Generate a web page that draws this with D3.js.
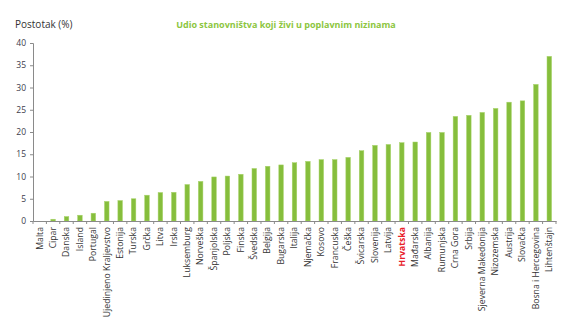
<!DOCTYPE html>
<html><head><meta charset="utf-8">
<script src="https://cdn.jsdelivr.net/npm/d3@7"></script>
<style>body{margin:0;background:#fff}svg{display:block}text{font-family:"Open Sans",sans-serif}</style>
</head><body><svg id="c" width="574" height="332"></svg>
<script>
const countries = ["Malta","Cipar","Danska","Island","Portugal","Ujedinjeno Kraljevstvo","Estonija","Turska","Grčka","Litva","Irska","Luksemburg","Norveška","Španjolska","Poljska","Finska","Švedska","Belgija","Bugarska","Italija","Njemačka","Kosovo","Francuska","Češka","Švicarska","Slovenija","Latvija","Hrvatska","Mađarska","Albanija","Rumunjska","Crna Gora","Srbija","Sjeverna Makedonija","Nizozemska","Austrija","Slovačka","Bosna i Hercegovina","Lihtenštajn"];
const values = [0,0.4,1.0,1.3,1.75,4.4,4.6,5.0,5.8,6.4,6.45,8.2,8.9,9.9,10.1,10.5,11.8,12.3,12.6,13.1,13.4,13.8,13.8,14.3,15.8,17.0,17.2,17.6,17.75,19.9,19.9,23.5,23.75,24.4,25.3,26.7,27.0,30.7,37.0];
const yTicks = [0,5,10,15,20,25,30,35,40];
const highlight = "Hrvatska";
const title = "Udio stanovništva koji živi u poplavnim nizinama";
const yTitle = "Postotak (%)";

const svg = d3.select("#c");
const x = d3.scaleBand().domain(countries).range([33,556]).paddingInner(0.66).paddingOuter(0.33);
const y = d3.scaleLinear().domain([0,40]).range([221,43]);

svg.selectAll("rect.bar").data(countries).join("rect")
  .attr("class","bar")
  .attr("x",d=>x(d)).attr("width",x.bandwidth())
  .attr("y",(d,i)=>y(values[i])).attr("height",(d,i)=>y(0)-y(values[i]))
  .attr("fill","#86be3c").attr("stroke","#a8d46a").attr("stroke-width",0.5);

// y axis
const ya = svg.append("g").attr("transform","translate(33,0)")
  .call(d3.axisLeft(y).tickValues(yTicks).tickSize(3).tickPadding(4));
ya.select(".domain").attr("stroke","#8a8a8a");
ya.selectAll(".tick line").attr("stroke","#8a8a8a");
ya.selectAll(".tick text").attr("fill","#3c3c4c").style("font-size","8.5px").style("font-family","'Open Sans',sans-serif");

// x axis
const step = x.step();
const xa = svg.append("g").attr("transform","translate(0,221)")
  .call(d3.axisBottom(x).tickSize(0).tickSizeOuter(0).tickPadding(6));
xa.select(".domain").attr("stroke","#8a8a8a");
xa.selectAll(".tick text")
  .attr("transform","rotate(-90)")
  .attr("text-anchor","end")
  .attr("x",-6).attr("y",0).attr("dy","0.32em")
  .attr("fill",d=>d===highlight?"#e8202a":"#333333")
  .style("font-weight",d=>d===highlight?"bold":"normal")
  .style("font-size","8.7px").style("font-family","'Open Sans',sans-serif");
// boundary ticks
const bounds = d3.range(countries.length+1).map(i=>x.range()[0]+i*step);
svg.append("g").selectAll("line").data(bounds).join("line")
  .attr("x1",d=>d).attr("x2",d=>d).attr("y1",221).attr("y2",224)
  .attr("stroke","#8a8a8a");

svg.append("text").attr("x",15).attr("y",28).text(yTitle)
  .attr("fill","#333333").style("font-size","10px");
svg.append("text").attr("x",286).attr("y",28).attr("text-anchor","middle").text(title)
  .attr("fill","#8dc63f").style("font-size","9px").style("font-weight","bold");
</script></body></html>
